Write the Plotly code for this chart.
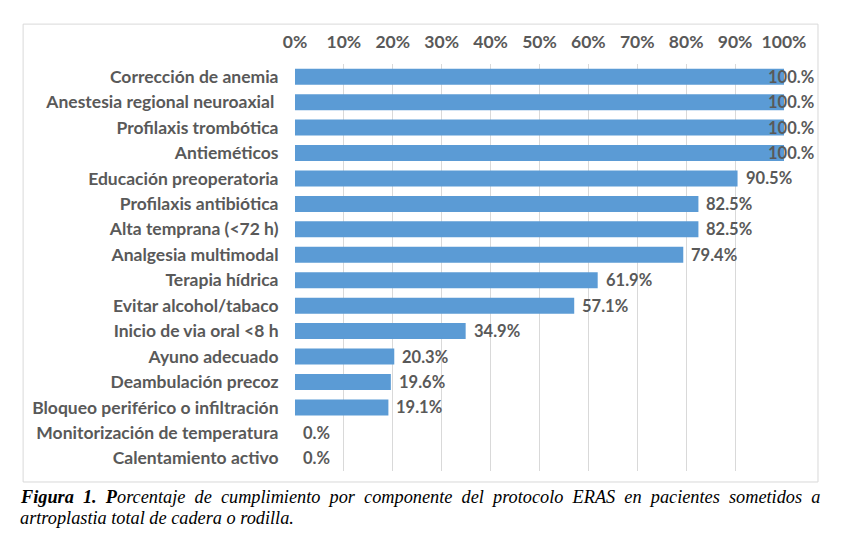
import plotly.graph_objects as go

componentes = [
    "Corrección de anemia",
    "Anestesia regional neuroaxial ",
    "Profilaxis trombótica",
    "Antieméticos",
    "Educación preoperatoria",
    "Profilaxis antibiótica",
    "Alta temprana (<72 h)",
    "Analgesia multimodal",
    "Terapia hídrica",
    "Evitar alcohol/tabaco",
    "Inicio de via oral <8 h",
    "Ayuno adecuado",
    "Deambulación precoz",
    "Bloqueo periférico o infiltración",
    "Monitorización de temperatura",
    "Calentamiento activo",
]
cumplimiento = [100, 100, 100, 100, 90.5, 82.5, 82.5, 79.4, 61.9, 57.1,
                34.9, 20.3, 19.6, 19.1, 0, 0]

# etiquetas con el formato de Excel "0.#%"
etiquetas = [("%.1f" % v).rstrip("0") + "%" for v in cumplimiento]

pie_1 = ("<b><i>Figura 1. P</i></b><i>orcentaje de cumplimiento por componente "
         "del protocolo ERAS en pacientes sometidos a</i>")
pie_2 = "<i>artroplastia total de cadera o rodilla.</i>"

gris = "#595959"
fuente = "Lato, Open Sans, sans-serif"

fig = go.Figure()
fig.add_trace(go.Bar(
    x=[v / 100 for v in cumplimiento], y=componentes, orientation="h",
    marker=dict(color="#5b9bd5", line=dict(width=0)),
    hoverinfo="skip",
))

anotaciones = []
for comp, v, txt in zip(componentes, cumplimiento, etiquetas):
    anotaciones.append(dict(
        x=v / 100, y=comp, xref="x", yref="y", text=txt,
        showarrow=False, xanchor="left", yanchor="middle",
        xshift=-18 if v >= 100 else 6,
        font=dict(family=fuente, size=16.5, color=gris, weight="bold"),
    ))

# primera linea justificada: espacios algo mas anchos
anotaciones.append(dict(
    x=-0.566, y=-0.064, xref="paper", yref="paper", xanchor="left",
    yanchor="middle", showarrow=False, align="left",
    text=pie_1.replace(" ", " \u2005"),
    font=dict(family="Liberation Serif, serif", size=18.3, color="black"),
))
anotaciones.append(dict(
    x=-0.566, y=-0.115, xref="paper", yref="paper", xanchor="left",
    yanchor="middle", showarrow=False, align="left",
    text=pie_2,
    font=dict(family="Liberation Serif, serif", size=18.3, color="black"),
))

fig.update_layout(
    width=841, height=543,
    margin=dict(l=287, r=65, t=56, b=80),
    paper_bgcolor="white", plot_bgcolor="white",
    bargap=0.37, showlegend=False,
    annotations=anotaciones,
    shapes=[dict(type="rect", xref="paper", yref="paper",
                 x0=-0.556, x1=1.0695, y0=-0.027, y1=1.098,
                 line=dict(color="#d9d9d9", width=1), layer="below")],
    xaxis=dict(side="top", range=[0, 1], dtick=0.1, tickformat=".0%",
               showgrid=True, gridcolor="#d9d9d9", zeroline=False,
               showline=False, fixedrange=True,
               ticks="outside", ticklen=8, tickcolor="rgba(0,0,0,0)",
               tickfont=dict(family=fuente, size=17.5, color=gris,
                             weight="bold")),
    yaxis=dict(autorange="reversed", showgrid=False, zeroline=False,
               ticks="outside", ticklen=12, tickcolor="rgba(0,0,0,0)",
               tickfont=dict(family=fuente, size=17.5, color=gris,
                             weight="bold")),
)

fig.write_html("out.html")
